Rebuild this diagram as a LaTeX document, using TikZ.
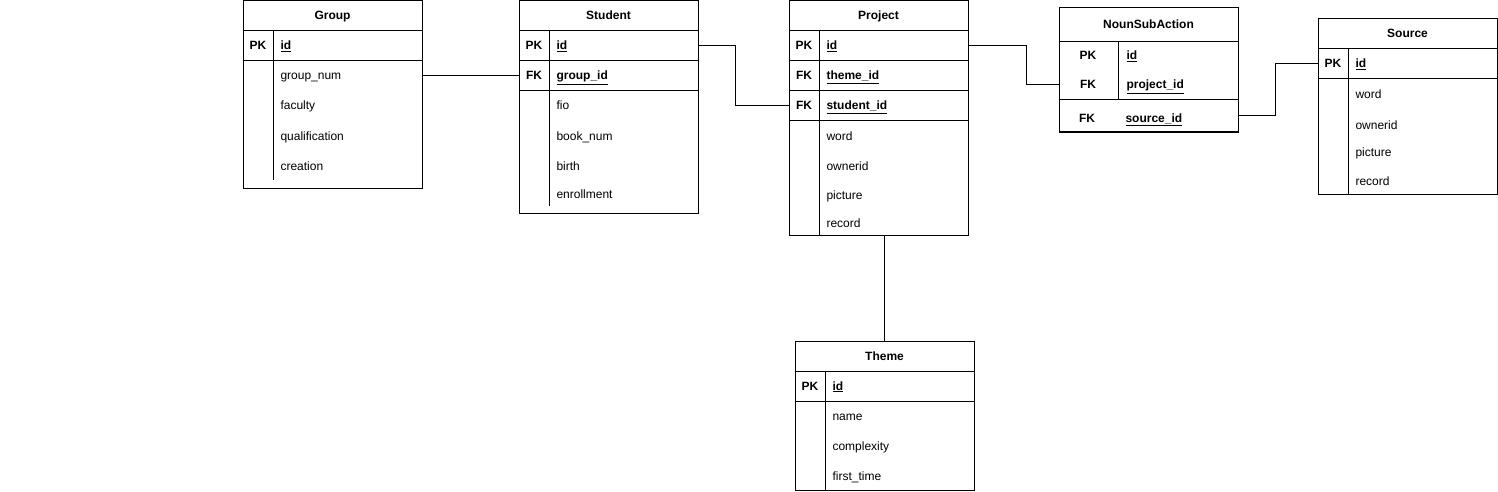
\documentclass[tikz,border=0pt]{standalone}
\usepackage{fontspec}
\setmainfont{Liberation Sans}
\usetikzlibrary{
    positioning,
    calc
}
\tikzset{
    tblhead/.style = {
        rectangle,
        draw,
        minimum width=179pt,
        minimum height=30pt,
        inner sep=0pt,
        outer sep=0pt,
        text height=10pt,
        text depth=2pt,
        font=\fontsize{12}{14}\selectfont\bfseries
    },
    tblrow/.style = {
        rectangle,
        draw,
        minimum width=179pt,
        minimum height=30pt,
        inner sep=0pt,
        outer sep=0pt
    },
    keylbl/.style = {
        inner sep=0pt,
        text height=10pt,
        text depth=2pt,
        font=\fontsize{12}{14}\selectfont\bfseries
    },
    fld/.style = {
        anchor=west,
        inner sep=0pt,
        text height=10pt,
        text depth=2pt,
        font=\fontsize{12}{14}\selectfont
    },
    keyfld/.style = {
        fld,
        font=\fontsize{12}{14}\selectfont\bfseries
    },
    link/.style = {
        draw,
        line width=1pt
    }
}

\begin{document}
\begin{tikzpicture}[x=1pt, y=-1pt, line width=1pt]
\useasboundingbox (0,0) rectangle (1498,492);

% Group
\node[tblhead, anchor=north west] (group) at (243,1) {Group};
\node[tblrow, below=0pt of group] (group-r1) {};
\node[tblrow, below=0pt of group-r1, minimum height=127pt] (group-body) {};
\draw (273,31) -- (273,180);
\node[keylbl] (group-pk) at (258,46) {PK};
\node[keyfld] (group-id) at (280,46) {\underline{id}};
\node[fld] (group-num) at (280,76) {group\_num};
\node[fld] (group-fac) at (280,106) {faculty};
\node[fld] (group-qual) at (280,136) {qualification};
\node[fld] (group-cre) at (280,166) {creation};

% Student
\node[tblhead, anchor=north west] (student) at (519,1) {Student};
\node[tblrow, below=0pt of student] (student-r1) {};
\node[tblrow, below=0pt of student-r1] (student-r2) {};
\node[tblrow, below=0pt of student-r2, minimum height=122pt] (student-body) {};
\draw (549,31) -- (549,206);
\node[keylbl] (student-pk) at (534,46) {PK};
\node[keyfld] (student-id) at (556,46) {\underline{id}};
\node[keylbl] (student-fk) at (534,76) {FK};
\node[keyfld] (student-gid) at (556,76) {\underline{group\_id}};
\node[fld] (student-fio) at (556,106) {fio};
\node[fld] (student-book) at (556,136) {book\_num};
\node[fld] (student-birth) at (556,166) {birth};
\node[fld] (student-enr) at (556,194) {enrollment};

% Project
\node[tblhead, anchor=north west] (project) at (789,1) {Project};
\node[tblrow, below=0pt of project] (project-r1) {};
\node[tblrow, below=0pt of project-r1] (project-r2) {};
\node[tblrow, below=0pt of project-r2] (project-r3) {};
\node[tblrow, below=0pt of project-r3, minimum height=114pt] (project-body) {};
\draw (819,31) -- (819,235);
\node[keylbl] (project-pk) at (804,46) {PK};
\node[keyfld] (project-id) at (826,46) {\underline{id}};
\node[keylbl] (project-fk1) at (804,76) {FK};
\node[keyfld] (project-tid) at (826,76) {\underline{theme\_id}};
\node[keylbl] (project-fk2) at (804,106) {FK};
\node[keyfld] (project-sid) at (826,106) {\underline{student\_id}};
\node[fld] (project-word) at (826,136) {word};
\node[fld] (project-own) at (826,166) {ownerid};
\node[fld] (project-pic) at (826,195) {picture};
\node[fld] (project-rec) at (826,223) {record};

% NounSubAction
\node[tblhead, anchor=north west, minimum height=34pt] (nsa) at (1059,8) {NounSubAction};
\node[tblrow, below=0pt of nsa, minimum height=58pt] (nsa-r12) {};
\node[tblrow, below=0pt of nsa-r12, minimum height=32pt] (nsa-r3) {};
\draw (1118,42) -- (1118,100);
\draw[line width=2pt] (nsa-r3.south west) -- (nsa-r3.south east);
\node[keylbl] (nsa-pk) at (1088,56) {PK};
\node[keyfld] (nsa-id) at (1126,56) {\underline{id}};
\node[keylbl] (nsa-fk1) at (1088,85) {FK};
\node[keyfld] (nsa-pid) at (1126,85) {\underline{project\_id}};
\node[keylbl] (nsa-fk2) at (1087,118) {FK};
\node[keyfld] (nsa-srcid) at (1125,118) {\underline{source\_id}};

% Source
\node[tblhead, anchor=north west] (source) at (1318,19) {Source};
\node[tblrow, below=0pt of source] (source-r1) {};
\node[tblrow, below=0pt of source-r1, minimum height=115pt] (source-body) {};
\draw (1348,49) -- (1348,194);
\node[keylbl] (source-pk) at (1333,64) {PK};
\node[keyfld] (source-id) at (1355,64) {\underline{id}};
\node[fld] (source-word) at (1355,95) {word};
\node[fld] (source-own) at (1355,125) {ownerid};
\node[fld] (source-pic) at (1355,153) {picture};
\node[fld] (source-rec) at (1355,181) {record};

% Theme
\node[tblhead, anchor=north west] (theme) at (795,341) {Theme};
\node[tblrow, below=0pt of theme] (theme-r1) {};
\node[tblrow, below=0pt of theme-r1, minimum height=89pt] (theme-body) {};
\draw (825,371) -- (825,490);
\node[keylbl] (theme-pk) at (810,386) {PK};
\node[keyfld] (theme-id) at (832,386) {\underline{id}};
\node[fld] (theme-name) at (832,416) {name};
\node[fld] (theme-comp) at (832,446) {complexity};
\node[fld] (theme-first) at (832,476) {first\_time};

% links
\draw[link] (group-body.east |- group-num) -- (student-r2.west);
\draw[link] (student-r1.east) -- ++(37,0) |- (project-r3.west);
\draw[link] (project-r1.east) -- ++(58,0) |- (nsa-r12.west |- nsa-fk1);
\draw[link] (nsa-r3.east) -- ++(37,0) |- (source-r1.west);
\draw[link] (theme.north |- project-body.south) -- (theme.north);
\end{tikzpicture}
\end{document}
